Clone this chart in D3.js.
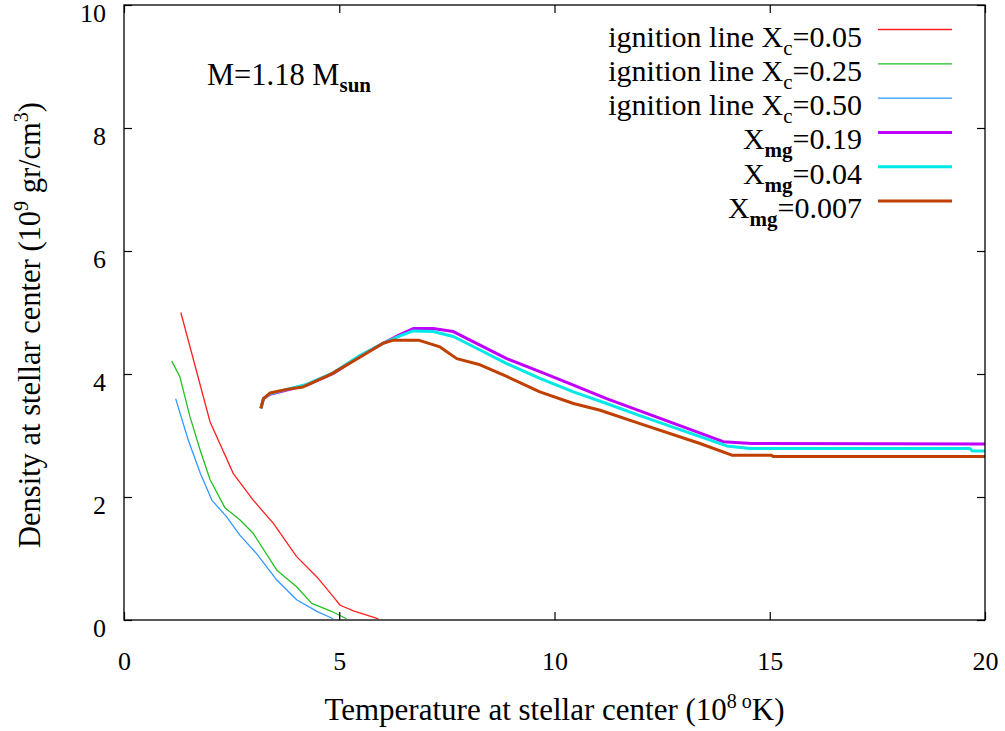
<!DOCTYPE html>
<html>
<head>
<meta charset="utf-8">
<script src="https://cdn.jsdelivr.net/npm/d3@7"></script>
<style>
  body { margin: 0; background: #fff; }
  text { font-family: "Liberation Serif", "Times New Roman", Times, serif; }
</style>
</head>
<body>
<div id="chart"></div>
<script>
// temperature (10^8 K) and density (10^9 g/cm^3)
var ignition005T = [1.32, 2.0, 2.54, 3.0, 3.47, 4.01, 4.48, 4.86, 5.02, 5.33, 5.91];
var ignition005D = [5.0, 3.22, 2.38, 1.95, 1.57, 1.03, 0.70, 0.38, 0.24, 0.15, 0.02];

var ignition025T = [1.11, 1.30, 1.53, 1.77, 2.0, 2.35, 2.69, 3.0, 3.55, 4.01, 4.36, 4.79, 5.17];
var ignition025D = [4.21, 3.95, 3.31, 2.76, 2.28, 1.82, 1.63, 1.41, 0.81, 0.54, 0.27, 0.15, 0.02];

var ignition050T = [1.20, 1.49, 1.77, 2.04, 2.38, 2.69, 3.08, 3.55, 4.01, 4.48, 4.86];
var ignition050D = [3.60, 2.93, 2.39, 1.95, 1.68, 1.38, 1.08, 0.65, 0.33, 0.14, 0.02];

var mg019T = [3.18, 3.24, 3.39, 3.78, 4.24, 4.86, 5.48, 6.02, 6.41, 6.72, 7.18, 7.65, 8.27, 8.89, 9.66, 10.44, 11.21, 11.95, 13.92, 14.58, 20];
var mg019D = [3.44, 3.60, 3.67, 3.74, 3.82, 4.01, 4.29, 4.50, 4.64, 4.74, 4.74, 4.69, 4.47, 4.25, 4.04, 3.82, 3.60, 3.41, 2.90, 2.87, 2.86];

var mg004T = [3.18, 3.24, 3.39, 3.78, 4.24, 4.86, 5.48, 6.02, 6.41, 6.72, 7.18, 7.65, 8.27, 8.89, 9.66, 10.44, 11.21, 11.95, 14.0, 14.54, 19.65, 19.7, 20];
var mg004D = [3.44, 3.60, 3.68, 3.75, 3.83, 4.02, 4.30, 4.50, 4.62, 4.70, 4.69, 4.61, 4.39, 4.17, 3.93, 3.71, 3.52, 3.33, 2.83, 2.79, 2.79, 2.75, 2.75];

var mg0007T = [3.18, 3.24, 3.39, 3.78, 4.16, 4.79, 5.40, 6.02, 6.26, 6.84, 7.34, 7.73, 8.27, 8.89, 9.66, 10.44, 11.06, 11.95, 13.38, 14.12, 15.04, 15.08, 20];
var mg0007D = [3.44, 3.60, 3.69, 3.75, 3.79, 3.99, 4.24, 4.50, 4.55, 4.55, 4.44, 4.25, 4.15, 3.96, 3.71, 3.52, 3.41, 3.20, 2.87, 2.68, 2.68, 2.66, 2.66];

var xTicks = [0, 5, 10, 15, 20];
var yTicks = [0, 2, 4, 6, 8, 10];

var series = [
  {label: "ignition line X", sub: "c", tail: "=0.05", t: ignition005T, d: ignition005D, color: "#ff2020", w: 1.3},
  {label: "ignition line X", sub: "c", tail: "=0.25", t: ignition025T, d: ignition025D, color: "#22c022", w: 1.3},
  {label: "ignition line X", sub: "c", tail: "=0.50", t: ignition050T, d: ignition050D, color: "#3399ff", w: 1.3},
  {label: "X", sub: "mg", tail: "=0.19", t: mg019T, d: mg019D, color: "#c000ff", w: 3},
  {label: "X", sub: "mg", tail: "=0.04", t: mg004T, d: mg004D, color: "#00e8e8", w: 3},
  {label: "X", sub: "mg", tail: "=0.007", t: mg0007T, d: mg0007D, color: "#c04000", w: 3}
];

var width = 1005, height = 731,
    plot = {left: 124, right: 985, top: 5, bottom: 620},
    tickLen = 8,
    serif = '"Liberation Serif", "Times New Roman", Times, serif';

var svg = d3.select('#chart')
  .append('svg')
    .attr('width', width)
    .attr('height', height);

var x = d3.scaleLinear().domain([0, 20]).range([plot.left, plot.right]);
var y = d3.scaleLinear().domain([0, 10]).range([plot.bottom, plot.top]);

// curves first, frame on top
var line = d3.line()
  .x(function (p) { return x(p[0]); })
  .y(function (p) { return y(p[1]); });

series.forEach(function (s) {
  var pts = s.t.map(function (t, i) { return [t, s.d[i]]; });
  svg.append('path')
    .attr('d', line(pts))
    .attr('fill', 'none')
    .attr('stroke', s.color)
    .attr('stroke-width', s.w)
    .attr('stroke-linejoin', 'round');
});

// axes, ticks pointing in, mirrored on top and right
svg.append('g')
  .attr('transform', 'translate(0,' + plot.bottom + ')')
  .call(d3.axisBottom(x).tickValues(xTicks).tickSizeInner(-tickLen).tickSizeOuter(0))
  .call(styleAxis)
  .call(function (g) {
    g.selectAll('.tick text').attr('y', 50).attr('dy', null);
  });
svg.append('g')
  .attr('transform', 'translate(0,' + plot.top + ')')
  .call(d3.axisTop(x).tickValues(xTicks).tickSizeInner(-tickLen).tickSizeOuter(0).tickFormat(''))
  .call(styleAxis);
svg.append('g')
  .attr('transform', 'translate(' + plot.left + ',0)')
  .call(d3.axisLeft(y).tickValues(yTicks).tickSizeInner(-tickLen).tickSizeOuter(0))
  .call(styleAxis)
  .call(function (g) {
    g.selectAll('.tick text').attr('x', -18).attr('dy', null).attr('y', 16);
  });
svg.append('g')
  .attr('transform', 'translate(' + plot.right + ',0)')
  .call(d3.axisRight(y).tickValues(yTicks).tickSizeInner(-tickLen).tickSizeOuter(0).tickFormat(''))
  .call(styleAxis);

function styleAxis(g) {
  g.attr('font-family', serif);
  g.select('.domain').remove();
  g.selectAll('.tick line').attr('stroke', '#000').attr('stroke-width', 1.2);
  g.selectAll('.tick text')
    .attr('font-family', serif)
    .attr('font-size', 26)
    .attr('fill', '#000');
}

svg.append('rect')
  .attr('x', plot.left).attr('y', plot.top)
  .attr('width', plot.right - plot.left).attr('height', plot.bottom - plot.top)
  .attr('fill', 'none')
  .attr('stroke', '#000')
  .attr('stroke-width', 1.3);

// axis titles
var xt = svg.append('text')
  .attr('x', (plot.left + plot.right) / 2).attr('y', 720)
  .attr('text-anchor', 'middle')
  .attr('font-family', serif)
  .attr('font-size', 31);
xt.append('tspan').text('Temperature at stellar center (10');
xt.append('tspan').attr('dy', -12).attr('font-size', 20).text('8');
xt.append('tspan').attr('font-size', 20).text(' o');
xt.append('tspan').attr('dy', 12).text('K)');

var yt = svg.append('text')
  .attr('transform', 'translate(40,' + 325 + ') rotate(-90)')
  .attr('text-anchor', 'middle')
  .attr('font-family', serif)
  .attr('font-size', 30.5);
yt.append('tspan').text('Density at stellar center (10');
yt.append('tspan').attr('dy', -12).attr('font-size', 20).text('9');
yt.append('tspan').attr('dy', 12).text(' gr/cm');
yt.append('tspan').attr('dy', -12).attr('font-size', 20).text('3');
yt.append('tspan').attr('dy', 12).text(')');

// mass label
var ml = svg.append('text')
  .attr('x', 207).attr('y', 85)
  .attr('font-family', serif)
  .attr('font-size', 30.5);
ml.append('tspan').text('M=1.18 M');
ml.append('tspan').attr('dy', 7).attr('font-size', 21).attr('font-weight', 'bold').text('sun');

// legend
var legY0 = 29.5, legStep = 34.3;
series.forEach(function (s, i) {
  var ly = legY0 + i * legStep;
  svg.append('line')
    .attr('x1', 878).attr('x2', 952)
    .attr('y1', ly).attr('y2', ly)
    .attr('stroke', s.color)
    .attr('stroke-width', s.w);
  var t = svg.append('text')
    .attr('x', 862).attr('y', ly + 17)
    .attr('text-anchor', 'end')
    .attr('font-family', serif)
    .attr('font-size', 30);
  t.append('tspan').text(s.label);
  t.append('tspan').attr('dy', 8).attr('font-size', 21)
    .attr('font-weight', s.sub === 'mg' ? 'bold' : 'normal').text(s.sub);
  t.append('tspan').attr('dy', -8).text(s.tail);
});
</script>
</body>
</html>
